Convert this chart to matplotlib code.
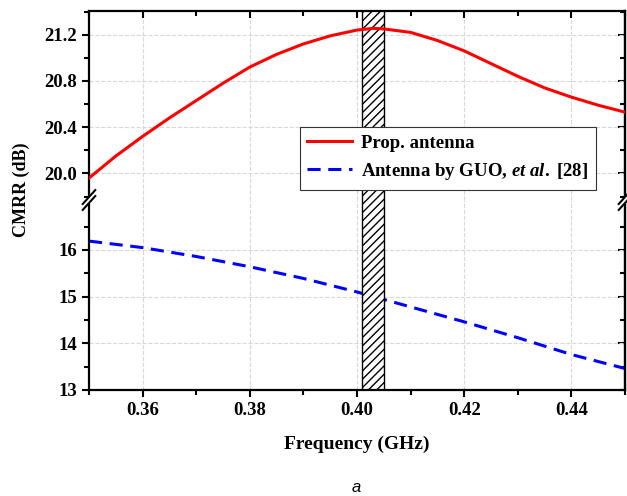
import numpy as np
import matplotlib
matplotlib.use("Agg")
import matplotlib.pyplot as plt
from matplotlib.lines import Line2D

plt.rcParams["font.family"] = "Liberation Serif"
plt.rcParams["font.weight"] = "bold"
plt.rcParams["mathtext.fontset"] = "custom"
plt.rcParams["mathtext.it"] = "Liberation Serif:italic:bold"
plt.rcParams["mathtext.rm"] = "Liberation Serif:bold"
plt.rcParams["hatch.linewidth"] = 1.0
plt.rcParams["hatch.color"] = "#222222"

# data
freq = [0.350, 0.355, 0.360, 0.365, 0.370, 0.375, 0.380, 0.385, 0.390, 0.395,
        0.400, 0.403, 0.405, 0.410, 0.415, 0.420, 0.425, 0.430, 0.435, 0.440,
        0.445, 0.450]
cmrr_prop = [19.96, 20.15, 20.32, 20.48, 20.63, 20.78, 20.92, 21.03, 21.12, 21.19,
             21.24, 21.255, 21.25, 21.22, 21.15, 21.06, 20.95, 20.84, 20.74, 20.66,
             20.59, 20.53]
freq_guo = [0.35, 0.36, 0.37, 0.38, 0.39, 0.40, 0.41, 0.42, 0.43, 0.44, 0.45]
cmrr_guo = [16.19, 16.05, 15.86, 15.64, 15.39, 15.10, 14.78, 14.46, 14.12, 13.76, 13.46]
band = (0.401, 0.405)

fig = plt.figure(figsize=(6.27, 4.96), dpi=100)
L, R = 89 / 627, 625 / 627
ax_top = fig.add_axes([L, 1 - 200 / 496, R - L, 189 / 496])
ax_bot = fig.add_axes([L, 1 - 390 / 496, R - L, 190 / 496])


def setup(ax, ylim, major, minor):
    ax.set_xlim(0.35, 0.45)
    ax.set_ylim(*ylim)
    ax.fill_between(band, ylim[0] - 5, ylim[1] + 5, facecolor="white",
                    edgecolor="black", hatch="////", linewidth=1.0, zorder=2)
    ax.set_xticks([0.36, 0.38, 0.40, 0.42, 0.44])
    ax.set_xticks(np.arange(0.35, 0.4501, 0.01), minor=True)
    ax.set_yticks(major)
    ax.set_yticks(minor, minor=True)
    ax.grid(True, which="major", color="#d8d8d8", linestyle="--", linewidth=0.8)
    ax.set_axisbelow(True)
    for s in ax.spines.values():
        s.set_linewidth(1.6)
    ax.tick_params(which="both", width=1.5, labelsize=13.5, direction="out")
    ax.tick_params(which="major", length=5)
    ax.tick_params(which="minor", length=3.5)
    # mirrored right axis with inward ticks
    sec = ax.secondary_yaxis("right")
    sec.set_yticks(major)
    sec.set_yticks(minor, minor=True)
    sec.tick_params(which="both", direction="in", width=1.5, labelright=False)
    sec.tick_params(which="major", length=5)
    sec.tick_params(which="minor", length=3.5)
    sec.spines["right"].set_linewidth(1.6)


setup(ax_top, (19.77, 21.405), [20.0, 20.4, 20.8, 21.2], np.arange(19.8, 21.41, 0.2))
setup(ax_bot, (13, 17.07), [13, 14, 15, 16], np.arange(13, 17.01, 0.5))

ax_top.plot(freq, cmrr_prop, color="red", linewidth=2.2, zorder=3,
            solid_joinstyle="round")
ax_bot.plot(freq_guo, cmrr_guo, color="blue", linewidth=2.2, zorder=1.5,
            linestyle=(0, (4.3, 2.5)))

ax_top.set_yticklabels(["20.0", "20.4", "20.8", "21.2"])
ax_top.spines["bottom"].set_visible(False)
ax_top.tick_params(axis="x", which="both", bottom=False, labelbottom=False,
                   top=True, direction="in")
ax_bot.spines["top"].set_visible(False)

ax_bot.set_xlabel("Frequency (GHz)", fontsize=14, fontweight="bold", labelpad=12)
fig.text(21 / 627, 1 - 190 / 496, "CMRR (dB)", rotation=90, fontsize=13,
         fontweight="bold", ha="center", va="center")

# break marks on both spines
yb = 1 - 200 / 496
for xb in (L, R):
    fig.add_artist(plt.Polygon([[xb - 0.010, yb - 0.020], [xb + 0.010, yb + 0.008],
                                [xb + 0.010, yb + 0.020], [xb - 0.010, yb - 0.008]],
                               closed=True, facecolor="white", edgecolor="none", zorder=9))
    for dy in (-0.006, 0.006):
        fig.add_artist(Line2D([xb - 0.010, xb + 0.010], [yb + dy - 0.014, yb + dy + 0.014],
                              color="black", linewidth=1.5, zorder=10))

handles = [Line2D([], [], color="red", linewidth=2.2),
           Line2D([], [], color="blue", linewidth=2.2, linestyle=(0, (4.3, 2.5)))]
labels = ["Prop. antenna", r"Antenna by GUO, $et\ al.$ [28]"]
leg = ax_top.legend(handles, labels, loc="upper right", bbox_to_anchor=(0.946, 0.386),
                    fontsize=13.5, frameon=True, fancybox=False, framealpha=1,
                    edgecolor="#333333", handlelength=2.4, handletextpad=0.5,
                    borderpad=0.4, labelspacing=0.5, borderaxespad=0)
leg.get_frame().set_linewidth(0.8)

fig.text(356 / 627, 1 - 487 / 496, "a", fontsize=12, style="italic",
         family="Liberation Sans", fontweight="normal", ha="center", va="center")

fig.savefig("out.png", dpi=100)
